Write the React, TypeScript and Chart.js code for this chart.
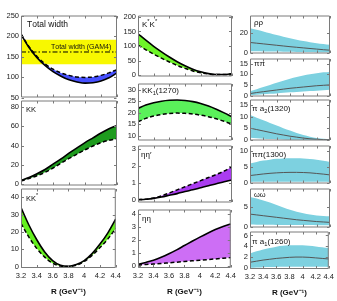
import React, { useEffect, useRef } from 'react';
import { Chart, registerables } from 'chart.js';
Chart.register(...registerables);

const FONT = "'Liberation Sans', Arial, Helvetica, sans-serif";

// ---------- data ----------
const R = [3.2, 3.3, 3.4, 3.5, 3.6, 3.7, 3.8, 3.9, 4.0, 4.1, 4.2, 4.3, 4.4];
const xTickValues = [3.2, 3.4, 3.6, 3.8, 4.0, 4.2, 4.4];
const xTickLabels = ['3.2', '3.4', '3.6', '3.8', '4', '4.2', '4.4'];
const xTitle = 'R (GeV⁻¹)';

const totalWidthSolid = [204, 172, 147, 128, 113, 102, 93, 88, 85, 86, 90, 98, 110];
const totalWidthDashed = [205, 174, 150, 132, 119, 110, 104, 100, 99, 100, 104, 110, 118];
const gam4Central = 161;
const gam4Band = [131, 191];

const kkSolid = [3.5, 6.5, 10.5, 15, 20.5, 26, 32, 37.5, 43, 48, 53, 57.5, 61];
const kkDashed = [3, 5.5, 8.5, 12, 16.5, 21.5, 26.5, 31, 35.5, 39.5, 43, 45.5, 47];

const kkStarSolid = [34, 24, 15.5, 8.5, 3.5, 0.8, 0.2, 1.2, 3.5, 7.5, 13, 19.5, 27.5];
const kkStarDashed = [25, 17, 10.5, 5.5, 2, 0.4, 0.1, 0.9, 3, 6.5, 11, 16, 22];

const ksksSolid = [142, 120, 99, 80, 62, 46, 32, 20, 11, 5, 2, 2, 5];
const ksksDashed = [103, 87, 72, 58, 45, 33, 23, 14, 8, 3.5, 1.5, 1.5, 4];

const kk1Solid = [21.8, 23.3, 24.3, 25, 25.4, 25.5, 25.3, 24.8, 24, 22.9, 21.5, 19.9, 18.2];
const kk1Dashed = [16, 17.5, 18.5, 19.2, 19.6, 19.8, 19.7, 19.4, 18.9, 18.2, 17.3, 16.2, 15];

const etaEtapSolid = [0.02, 0.05, 0.1, 0.18, 0.28, 0.38, 0.5, 0.6, 0.72, 0.84, 0.95, 1.07, 1.18];
const etaEtapDashed = [0.02, 0.05, 0.12, 0.25, 0.42, 0.6, 0.78, 0.96, 1.14, 1.32, 1.5, 1.7, 1.95];

const etaEtaSolid = [0.1, 0.25, 0.42, 0.65, 0.92, 1.22, 1.55, 1.88, 2.2, 2.5, 2.78, 3.02, 3.22];
const etaEtaDashed = [0.05, 0.09, 0.13, 0.17, 0.22, 0.27, 0.32, 0.37, 0.42, 0.47, 0.52, 0.57, 0.62];

const rhoUpper = [24.5, 23, 21.3, 19.5, 17.7, 16, 14.4, 13, 11.7, 10.6, 9.6, 8.8, 8];
const rhoCentral = [10.3, 9.6, 8.9, 8.2, 7.5, 6.8, 6.1, 5.5, 4.9, 4.3, 3.7, 3.1, 2.6];
const rhoLower = [1.6, 1.5, 1.4, 1.3, 1.2, 1.1, 1.0, 0.9, 0.8, 0.7, 0.6, 0.55, 0.5];

const pipiUpper = [2, 3, 4, 5, 6, 7, 7.9, 8.7, 9.4, 10, 10.5, 10.9, 11.1];
const pipiCentral = [0.9, 1.4, 1.8, 2.2, 2.6, 3, 3.4, 3.7, 4, 4.3, 4.6, 4.8, 5];
const pipiLower = [0.2, 0.4, 0.6, 0.8, 1.0, 1.25, 1.5, 1.7, 1.9, 2.1, 2.3, 2.5, 2.7];

const pia2Upper = [10.6, 9.5, 8.4, 7.3, 6.2, 5.1, 4.1, 3.1, 2.2, 1.5, 0.9, 0.6, 0.5];
const pia2Central = [5.1, 4.5, 3.9, 3.3, 2.7, 2.2, 1.7, 1.3, 0.9, 0.6, 0.4, 0.25, 0.2];
const pia2Lower = [1.0, 0.8, 0.65, 0.5, 0.4, 0.3, 0.2, 0.15, 0.1, 0.05, 0.02, 0, 0];

const pi1300Upper = [6.1, 6.6, 7, 7.3, 7.55, 7.7, 7.75, 7.75, 7.65, 7.5, 7.25, 6.95, 6.6];
const pi1300Central = [2.3, 2.55, 2.8, 3.0, 3.15, 3.25, 3.3, 3.3, 3.25, 3.15, 2.95, 2.75, 2.5];
const pi1300Lower = [0.3, 0.32, 0.34, 0.36, 0.37, 0.38, 0.38, 0.38, 0.37, 0.36, 0.35, 0.33, 0.3];

const omegaUpper = [7.4, 7.0, 6.5, 6.0, 5.4, 4.8, 4.25, 3.75, 3.35, 3.05, 2.8, 2.7, 2.6];
const omegaCentral = [3.15, 2.95, 2.75, 2.55, 2.35, 2.15, 1.95, 1.75, 1.6, 1.45, 1.3, 1.2, 1.1];
const omegaLower = [0.55, 0.53, 0.51, 0.5, 0.48, 0.47, 0.45, 0.44, 0.43, 0.42, 0.41, 0.4, 0.4];

const pia1Upper = [2.7, 3.1, 3.45, 3.7, 3.95, 4.1, 4.2, 4.2, 4.2, 4.1, 4.0, 3.85, 3.7];
const pia1Central = [1.1, 1.3, 1.5, 1.65, 1.8, 1.9, 2.0, 2.05, 2.05, 2.0, 1.9, 1.8, 1.7];
const pia1Lower = [0.1, 0.15, 0.2, 0.22, 0.25, 0.27, 0.28, 0.3, 0.3, 0.3, 0.3, 0.28, 0.25];

// ---------- helpers ----------
const pts = (ys: number[]) => R.map((x, i) => ({ x, y: ys[i] }));
const flat = (y: number) => [{ x: R[0], y }, { x: R[R.length - 1], y }];

function pairSets(solid: number[], dashed: number[], color: string) {
  return [
    { data: pts(solid), borderColor: '#000', borderWidth: 1.6, pointRadius: 0, tension: 0.4, cubicInterpolationMode: 'monotone', fill: '+1', backgroundColor: color },
    { data: pts(dashed), borderColor: '#000', borderWidth: 1.5, borderDash: [4, 2.5], pointRadius: 0, tension: 0.4, cubicInterpolationMode: 'monotone', fill: false },
  ];
}
function bandSets(upper: number[], central: number[], lower: number[]) {
  const cyan = 'rgb(125, 209, 224)';
  return [
    { data: pts(central), borderColor: '#555', borderWidth: 1, pointRadius: 0, tension: 0.4, cubicInterpolationMode: 'monotone', fill: false },
    { data: pts(upper), borderColor: 'rgba(0,0,0,0)', borderWidth: 0, pointRadius: 0, tension: 0.4, cubicInterpolationMode: 'monotone', fill: '+1', backgroundColor: cyan },
    { data: pts(lower), borderColor: 'rgba(0,0,0,0)', borderWidth: 0, pointRadius: 0, tension: 0.4, cubicInterpolationMode: 'monotone', fill: false },
  ];
}

function drawRich(ctx: CanvasRenderingContext2D, text: string, x: number, y: number, size: number) {
  let cx = x;
  let i = 0;
  while (i < text.length) {
    const ch = text[i];
    if ((ch === '^' || ch === '_') && i + 1 < text.length) {
      const s = text[i + 1];
      ctx.font = `${size * 0.72}px ${FONT}`;
      const dy = ch === '^' ? -size * 0.42 : size * 0.28;
      ctx.fillText(s, cx, y + dy);
      cx += ctx.measureText(s).width;
      i += 2;
    } else {
      ctx.font = `${size}px ${FONT}`;
      ctx.fillText(ch, cx, y);
      cx += ctx.measureText(ch).width;
      i += 1;
    }
  }
}

const framePlugin = {
  id: 'panelFrame',
  afterDraw(chart: any, _a: any, opts: any) {
    const { ctx, chartArea: a, scales } = chart;
    ctx.save();
    ctx.strokeStyle = '#7a7a7a';
    ctx.lineWidth = 1;
    const L = a.left + 0.5, T = a.top + 0.5, Rr = a.right - 0.5, B = a.bottom - 0.5;
    ctx.beginPath();
    ctx.rect(L, T, Rr - L, B - T);
    const tl = 2.5;
    for (const v of xTickValues) {
      const px = Math.round(scales.x.getPixelForValue(v)) + 0.5;
      ctx.moveTo(px, B); ctx.lineTo(px, B - tl);
      ctx.moveTo(px, T); ctx.lineTo(px, T + tl);
    }
    for (const v of opts.yTicks) {
      const py = Math.round(scales.y.getPixelForValue(v)) + 0.5;
      ctx.moveTo(L, py); ctx.lineTo(L + tl, py);
      ctx.moveTo(Rr, py); ctx.lineTo(Rr - tl, py);
    }
    ctx.stroke();
    ctx.fillStyle = '#111';
    ctx.textBaseline = 'alphabetic';
    ctx.textAlign = 'left';
    for (const lb of opts.labels) drawRich(ctx, lb.text, a.left + lb.dx, a.top + lb.dy, lb.size);
    ctx.restore();
  },
};

// ---------- panel definitions ----------
const LEFT = [21, 117];
const MID = [138, 232];
const RIGHT = [250, 330];

type PanelCfg = {
  x: number[]; top: number; bottom: number; yMin: number; yMax: number; yTicks: number[];
  showX: boolean; datasets: any[]; labels: { text: string; dx: number; dy: number; size: number }[];
};

const panels: PanelCfg[] = [
  {
    x: LEFT, top: 15, bottom: 98, yMin: 50, yMax: 250, yTicks: [50, 100, 150, 200, 250], showX: false,
    datasets: [
      ...pairSets(totalWidthSolid, totalWidthDashed, 'rgb(70, 80, 255)'),
      { data: flat(gam4Central), borderColor: '#000', borderWidth: 1, borderDash: [5, 2, 1.5, 2], pointRadius: 0, fill: false },
      { data: flat(gam4Band[1]), borderColor: 'rgba(0,0,0,0)', borderWidth: 0, pointRadius: 0, fill: '+1', backgroundColor: 'rgb(248, 248, 0)' },
      { data: flat(gam4Band[0]), borderColor: 'rgba(0,0,0,0)', borderWidth: 0, pointRadius: 0, fill: false },
    ],
    labels: [
      { text: 'Total width', dx: 6, dy: 11, size: 8.5 },
      { text: 'Total width (GAM4)', dx: 30, dy: 33, size: 7 },
    ],
  },
  {
    x: LEFT, top: 100, bottom: 186, yMin: -1.75, yMax: 87, yTicks: [0, 20, 40, 60, 80], showX: false,
    datasets: pairSets(kkSolid, kkDashed, 'rgb(30, 155, 30)'),
    labels: [{ text: 'KK', dx: 5, dy: 11, size: 7.5 }],
  },
  {
    x: LEFT, top: 188, bottom: 268, yMin: -0.75, yMax: 45, yTicks: [0, 10, 20, 30, 40], showX: true,
    datasets: pairSets(kkStarSolid, kkStarDashed, 'rgb(100, 240, 30)'),
    labels: [{ text: 'KK^*', dx: 5, dy: 12, size: 7.5 }],
  },
  {
    x: MID, top: 15, bottom: 77, yMin: -5, yMax: 205, yTicks: [0, 50, 100, 150, 200], showX: false,
    datasets: pairSets(ksksSolid, ksksDashed, 'rgb(110, 245, 40)'),
    labels: [{ text: 'K^*K^*', dx: 4, dy: 11, size: 8 }],
  },
  {
    x: MID, top: 83, bottom: 141, yMin: 7.86, yMax: 32.7, yTicks: [10, 15, 20, 25, 30], showX: false,
    datasets: pairSets(kk1Solid, kk1Dashed, 'rgb(90, 240, 90)'),
    labels: [{ text: 'KK_1(1270)', dx: 4, dy: 9, size: 8 }],
  },
  {
    x: MID, top: 145, bottom: 203, yMin: -0.14, yMax: 3.19, yTicks: [0, 1, 2, 3], showX: false,
    datasets: pairSets(etaEtapSolid, etaEtapDashed, 'rgb(170, 60, 240)'),
    labels: [{ text: 'ηη′', dx: 3, dy: 11, size: 8 }],
  },
  {
    x: MID, top: 209, bottom: 268, yMin: -0.18, yMax: 4.33, yTicks: [0, 1, 2, 3, 4], showX: true,
    datasets: pairSets(etaEtaSolid, etaEtaDashed, 'rgb(205, 110, 245)'),
    labels: [{ text: 'ηη', dx: 4, dy: 11, size: 8 }],
  },
  {
    x: RIGHT, top: 15, bottom: 54, yMin: -0.7, yMax: 37.2, yTicks: [0, 20], showX: false,
    datasets: bandSets(rhoUpper, rhoCentral, rhoLower),
    labels: [{ text: 'ρρ', dx: 4, dy: 9, size: 8 }],
  },
  {
    x: RIGHT, top: 58, bottom: 97, yMin: -0.46, yMax: 17.4, yTicks: [0, 5, 10, 15], showX: false,
    datasets: bandSets(pipiUpper, pipiCentral, pipiLower),
    labels: [{ text: 'ππ', dx: 4, dy: 7, size: 8 }],
  },
  {
    x: RIGHT, top: 99, bottom: 141, yMin: -0.12, yMax: 17.2, yTicks: [0, 5, 10, 15], showX: false,
    datasets: bandSets(pia2Upper, pia2Central, pia2Lower),
    labels: [{ text: 'π a_2(1320)', dx: 2, dy: 11, size: 8 }],
  },
  {
    x: RIGHT, top: 145, bottom: 184, yMin: -0.2, yMax: 11.75, yTicks: [0, 5, 10], showX: false,
    datasets: bandSets(pi1300Upper, pi1300Central, pi1300Lower),
    labels: [{ text: 'ππ(1300)', dx: 2, dy: 11, size: 8 }],
  },
  {
    x: RIGHT, top: 188, bottom: 228, yMin: -0.17, yMax: 9.5, yTicks: [0, 5], showX: false,
    datasets: bandSets(omegaUpper, omegaCentral, omegaLower),
    labels: [{ text: 'ωω', dx: 4, dy: 8, size: 7.5 }],
  },
  {
    x: RIGHT, top: 231, bottom: 269, yMin: -0.13, yMax: 6.72, yTicks: [0, 2, 4, 6], showX: true,
    datasets: bandSets(pia1Upper, pia1Central, pia1Lower),
    labels: [{ text: 'π a_1(1260)', dx: 2, dy: 12, size: 8 }],
  },
];

const PAD_L = 22;
const PAD_T = 6;
const PAD_R = 7;
const PAD_B = 6;
const X_AXIS_H = 29;
const TICK_FONT = { family: FONT, size: 7.5 };

function Panel({ cfg }: { cfg: PanelCfg }) {
  const ref = useRef<HTMLCanvasElement>(null);
  const plotW = cfg.x[1] - cfg.x[0];
  const plotH = cfg.bottom - cfg.top;
  const width = plotW + PAD_L + PAD_R;
  const height = plotH + PAD_T + (cfg.showX ? X_AXIS_H + 2 : PAD_B);

  useEffect(() => {
    if (!ref.current) return;
    const xScale: any = {
      type: 'linear', min: 3.2, max: 4.4, display: cfg.showX,
      grid: { display: false, drawTicks: false }, border: { display: false },
      afterBuildTicks: (ax: any) => { ax.ticks = xTickValues.map((v) => ({ value: v })); },
      ticks: {
        autoSkip: false, maxRotation: 0, minRotation: 0, padding: 3, color: '#222', font: TICK_FONT,
        callback: (_v: any, i: number) => xTickLabels[i],
      },
      title: {
        display: true, text: xTitle, color: '#111',
        font: { family: FONT, size: 8, weight: 'bold' }, padding: { top: 0, bottom: 0 },
      },
    };
    if (cfg.showX) xScale.afterFit = (ax: any) => { ax.height = X_AXIS_H; };
    const chart = new Chart(ref.current, {
      type: 'line',
      data: { datasets: cfg.datasets },
      plugins: [framePlugin],
      options: {
        animation: false, responsive: false, maintainAspectRatio: false, events: [],
        layout: { padding: { left: 0, top: PAD_T, right: PAD_R, bottom: cfg.showX ? 2 : PAD_B } },
        plugins: {
          legend: { display: false }, tooltip: { enabled: false },
          filler: { drawTime: 'beforeDatasetsDraw' },
          panelFrame: { yTicks: cfg.yTicks, labels: cfg.labels },
        } as any,
        scales: {
          x: xScale,
          y: {
            type: 'linear', min: cfg.yMin, max: cfg.yMax,
            grid: { display: false, drawTicks: false }, border: { display: false },
            afterBuildTicks: (ax: any) => { ax.ticks = cfg.yTicks.map((v) => ({ value: v })); },
            afterFit: (ax: any) => { ax.width = PAD_L; },
            ticks: { padding: 2, color: '#222', font: TICK_FONT, callback: (v: any) => String(v) },
          },
        } as any,
      } as any,
    });
    return () => chart.destroy();
  }, [cfg]);

  return (
    <canvas
      ref={ref}
      width={width}
      height={height}
      style={{ position: 'absolute', left: cfg.x[0] - PAD_L, top: cfg.top - PAD_T, width, height }}
    />
  );
}

export default function App() {
  return (
    <div style={{ position: 'fixed', left: 0, top: 0, width: 337, height: 301, background: '#fff', overflow: 'hidden' }}>
      {panels.map((p, i) => (
        <Panel key={i} cfg={p} />
      ))}
    </div>
  );
}
